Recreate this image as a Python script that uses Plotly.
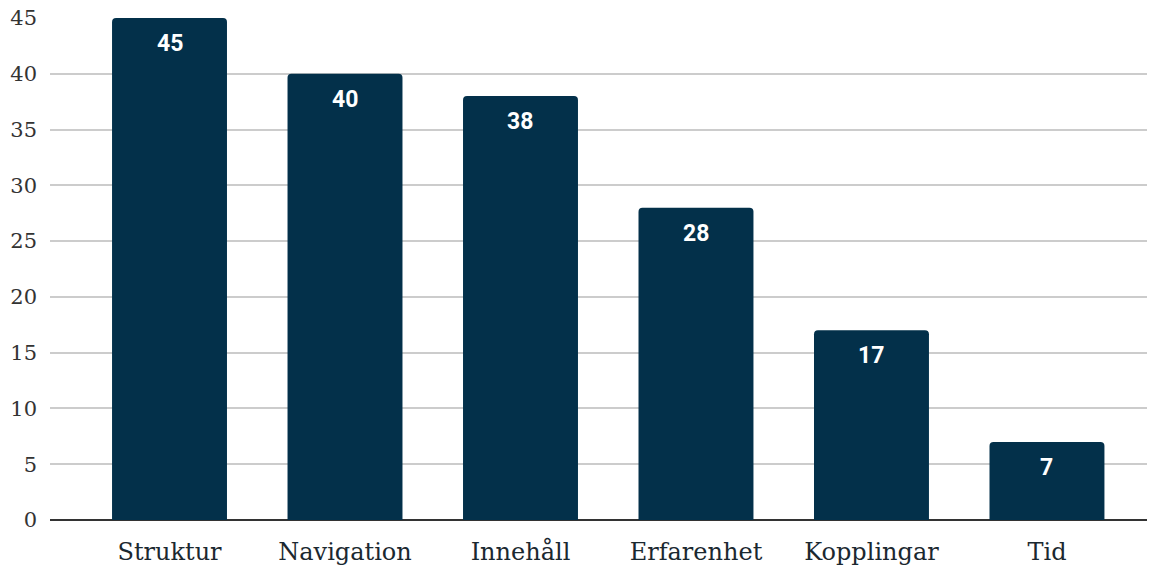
import plotly.graph_objects as go

categories = ["Struktur", "Navigation", "Innehåll", "Erfarenhet", "Kopplingar", "Tid"]
values = [45, 40, 38, 28, 17, 7]
y_ticks = [0, 5, 10, 15, 20, 25, 30, 35, 40, 45]

bar_color = "#03304a"
serif = "DejaVu Serif, Liberation Serif, serif"

fig = go.Figure(
    go.Bar(
        x=categories,
        y=values,
        width=0.655,
        marker=dict(color=bar_color, cornerradius=4, line=dict(width=0)),
        hoverinfo="skip",
    )
)

# value labels placed just under the top of each bar
for cat, val in zip(categories, values):
    fig.add_annotation(
        x=cat, y=val, text=f"<b>{val}</b>", showarrow=False,
        yanchor="top", yshift=-10,
        font=dict(family="Roboto, Arial, sans-serif", size=23, color="white"),
    )

fig.update_layout(
    width=1156, height=566,
    margin=dict(l=50, r=9, t=18, b=46, autoexpand=False),
    paper_bgcolor="white", plot_bgcolor="white",
    showlegend=False,
    bargap=0.345,
)
fig.update_xaxes(
    range=[-0.681, 5.57], automargin=False,
    showgrid=False, ticks="", showline=False, zeroline=False,
    ticklabelstandoff=15,
    tickfont=dict(family=serif, size=24, color="#1b2830"),
)
fig.update_yaxes(
    range=[0, 45], tickvals=y_ticks, automargin=False,
    showgrid=True, gridcolor="#cccccc", gridwidth=1.5,
    zeroline=True, zerolinecolor="#333333", zerolinewidth=2,
    ticks="", ticklabelstandoff=12,
    tickfont=dict(family=serif, size=21, color="#333333"),
)

fig.write_html("out.html")
